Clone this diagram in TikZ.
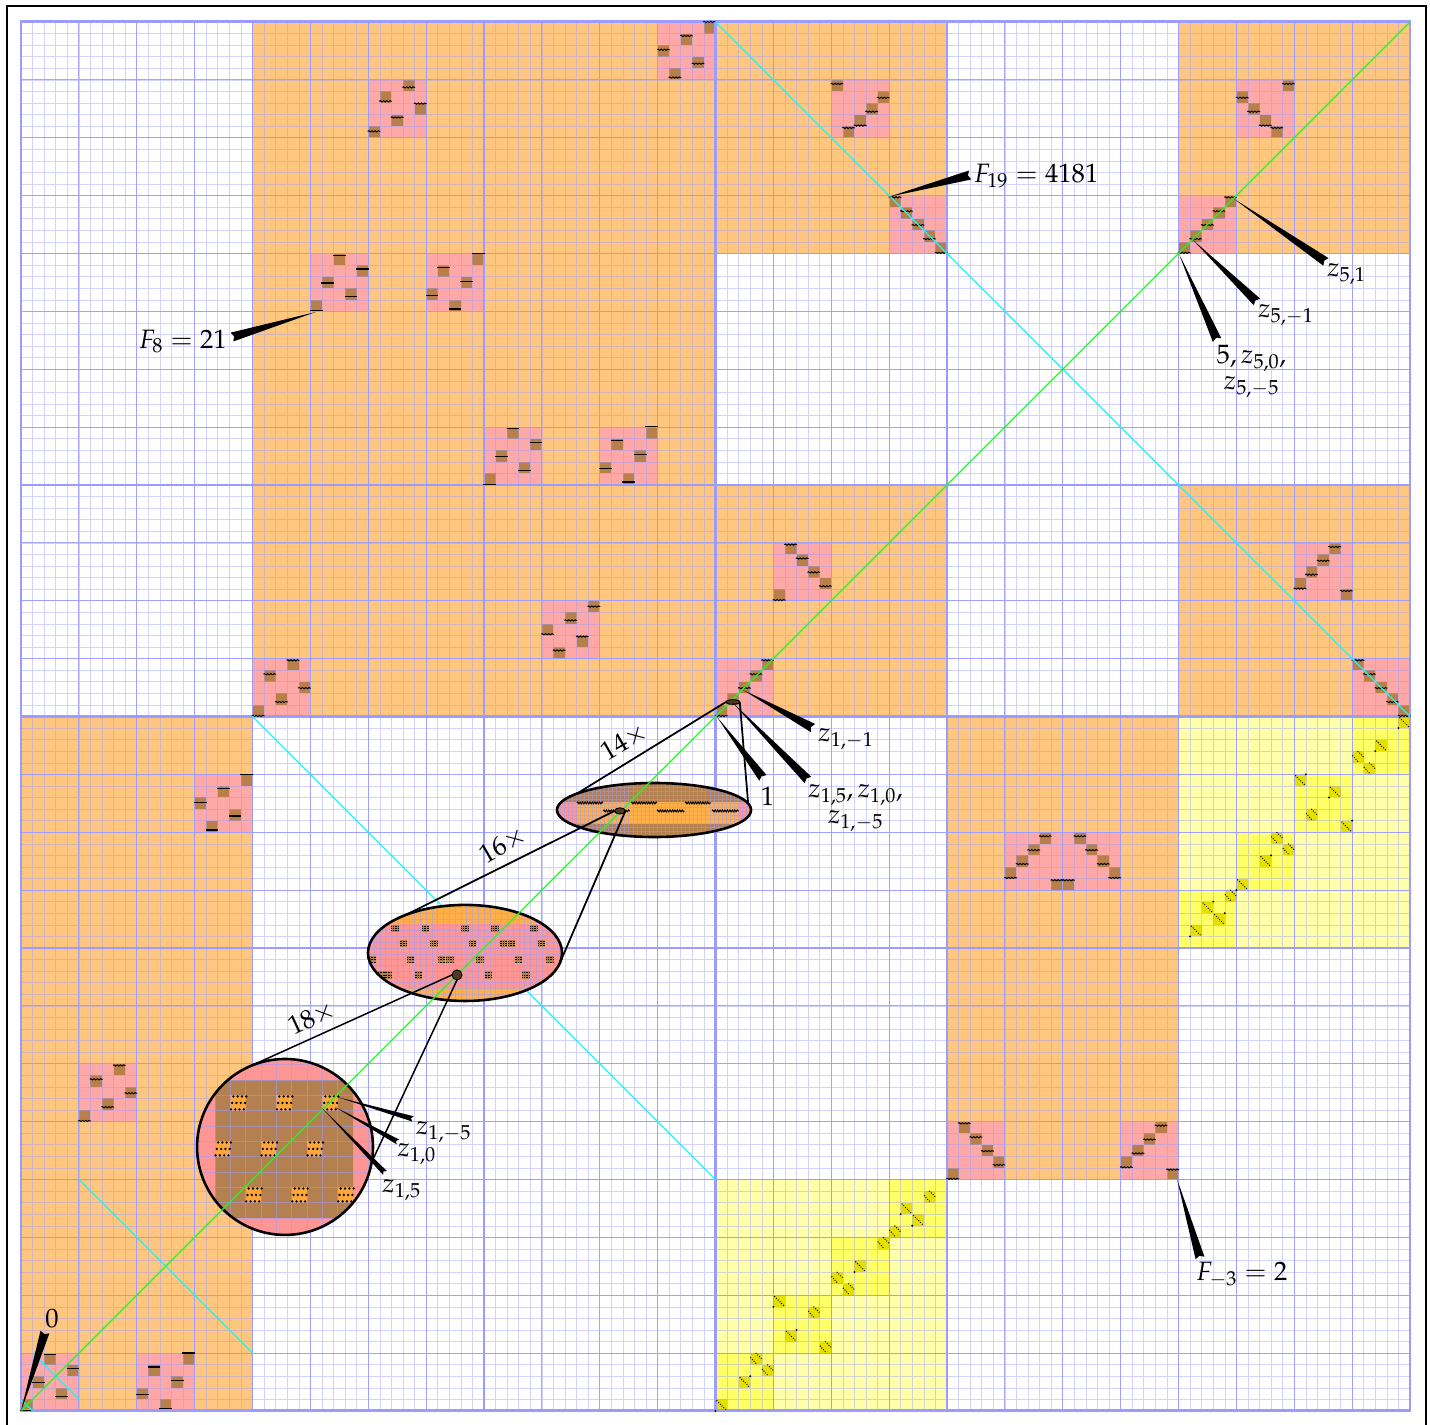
\documentclass[tikz,border=0pt]{standalone}
\usepackage{amsmath,amssymb}
\usepackage{mathpazo}
\usepackage{tikz}
\usetikzlibrary{calc,shapes.geometric,decorations.pathmorphing}

\definecolor{gridcol}{HTML}{9C9CFF}
\definecolor{orangecol}{HTML}{FFC680}
\definecolor{pinkcol}{HTML}{FFA8A8}
\definecolor{browncol}{HTML}{B87F48}
\definecolor{paleyellow}{HTML}{FFFFAA}
\definecolor{brightyellow}{HTML}{FFFF66}
\definecolor{darkyellow}{HTML}{E6E000}
\definecolor{lensorange}{HTML}{FFB04A}
\definecolor{lenspink}{HTML}{FF9696}
\definecolor{lensbrown}{HTML}{B5804F}
\definecolor{diagcol}{HTML}{1EFA1E}
\definecolor{crosscol}{HTML}{1EF5F5}

% pointer with a notched wide end: [half width]{wide end}{tip}
\newcommand{\pointer}[3][3.4pt]{%
  \fill ($(#2)!#1!90:(#3)$) -- (#3) -- ($(#2)!#1!-90:(#3)$) -- ($(#2)!1.6pt!(#3)$) -- cycle;}

\begin{document}
\begin{tikzpicture}[
    x=0.3cm, y=0.3cm,
    txt/.style={font=\fontsize{19.6}{23}\selectfont, inner sep=0pt, align=center},
    minorline/.style={gridcol, line width=0.4pt, opacity=0.45},
    midline/.style={gridcol, line width=0.6pt, opacity=0.9},
    bigline/.style={gridcol, line width=0.9pt},
    heavyline/.style={gridcol, line width=1.9pt},
    wavymark/.style={black, line width=0.7pt, decorate, decoration={snake, amplitude=0.45pt, segment length=2.4pt}},
    flatmark/.style={black, line width=0.9pt},
    dotline/.style={black, line cap=round, line width=1pt, dash pattern=on 0pt off 1.8pt},
    lensgrid/.style={gridcol, line width=0.3pt, opacity=0.55},
    lensedge/.style={draw=black, line width=1.9pt, ellipse, inner sep=0pt, outer sep=0pt},
    zoomline/.style={black, line width=1.3pt},
    srcspot/.style={draw=black, fill=browncol!45!black, ellipse, line width=0.7pt, inner sep=0pt, outer sep=0pt}
]
\useasboundingbox (-1.814,-1.21) rectangle (121.73,121.9);

% Outer frame
\draw[black, line width=1.5pt] (-1.25,-1.21) -- (-1.25,121.42) -- (121.42,121.42) -- (121.42,-1.21);

% Large regions
\foreach \bx/\by/\bw/\bh in {20/60/40/60, 60/100/20/20, 100/100/20/20, 60/60/20/20, 100/60/20/20, 0/0/20/60, 80/20/20/40}
    \fill[orangecol] (\bx,\by) rectangle ++(\bw,\bh);
\foreach \bx/\by in {100/40, 60/0}
    \fill[paleyellow] (\bx,\by) rectangle ++(20,20);
\foreach \bx/\by in {100/40, 105/45, 110/50, 115/55, 60/0, 65/5, 70/10, 75/15}
    \fill[brightyellow] (\bx,\by) rectangle ++(5,5);

% Pink blocks: corner / row of each column / mark base / mark shift / mark kind
\foreach \bx/\by/\ra/\rb/\rc/\rd/\re/\mbase/\moff/\kind in {
    55/115/2/0/3/1/4/.2/0/wavymark, 30/110/0/3/1/4/2/.15/3/wavymark,
    70/110/4/0/1/2/3/.05/1/wavymark, 105/110/3/2/1/0/4/.05/1/wavymark,
    75/100/4/3/2/1/0/.05/0/wavymark, 100/100/0/1/2/3/4/.05/0/wavymark,
    25/95/0/2/4/1/3/.05/0/flatmark, 35/95/1/3/0/2/4/.2/0/flatmark,
    40/80/0/2/4/1/3/.05/0/flatmark, 50/80/1/3/0/2/4/.25/0/flatmark,
    65/70/0/4/3/2/1/.05/0/wavymark, 110/70/1/2/3/4/0/.05/1/wavymark,
    45/65/2/0/3/1/4/.1/2/wavymark, 20/60/0/3/1/4/2/.05/0/wavymark,
    60/60/0/1/2/3/4/.05/0/wavymark, 115/60/4/3/2/1/0/.05/0/wavymark,
    15/50/2/0/3/1/4/.2/0/flatmark, 85/45/1/2/3/4/0/.05/1/wavymark,
    90/45/0/4/3/2/1/.05/1/wavymark, 5/25/0/3/1/4/2/.05/0/wavymark,
    80/20/0/4/3/2/1/.05/0/wavymark, 95/20/1/2/3/4/0/.05/1/wavymark,
    0/0/0/2/4/1/3/.05/0/flatmark, 10/0/1/3/0/2/4/.2/0/flatmark} {
    \fill[pinkcol] (\bx,\by) rectangle ++(5,5);
    \foreach \co/\ro in {0/\ra, 1/\rb, 2/\rc, 3/\rd, 4/\re}
        \fill[browncol] (\bx+\co,\by+\ro) rectangle ++(1,1);
}

% Dark yellow squares
\foreach \px/\py in {60/0, 62/2, 63/4, 64/3, 65/9, 66/6, 68/8, 69/5, 70/11, 71/10, 72/12, 74/14,
    75/15, 76/17, 77/16, 78/18, 101/41, 102/43, 103/42, 104/44, 105/45, 107/47, 108/49, 109/48,
    110/54, 111/51, 113/53, 114/50, 115/56, 116/55, 117/57, 119/59}
    \fill[darkyellow] (\px,\py) rectangle ++(1,1);

% Grid
\draw[minorline, step=1] (0,0) grid (120,120);
\draw[midline, step=5] (0,0) grid (120,120);
\draw[bigline, step=20] (0,0) grid (120,120);
\draw[heavyline] (60,0) -- (60,120) (0,60) -- (120,60);
\draw[gridcol, line width=2.2pt] (0,0) rectangle (120,120);

% Marks on the brown squares
\foreach \bx/\by/\ra/\rb/\rc/\rd/\re/\mbase/\moff/\kind in {
    55/115/2/0/3/1/4/.2/0/wavymark, 30/110/0/3/1/4/2/.15/3/wavymark,
    70/110/4/0/1/2/3/.05/1/wavymark, 105/110/3/2/1/0/4/.05/1/wavymark,
    75/100/4/3/2/1/0/.05/0/wavymark, 100/100/0/1/2/3/4/.05/0/wavymark,
    25/95/0/2/4/1/3/.05/0/flatmark, 35/95/1/3/0/2/4/.2/0/flatmark,
    40/80/0/2/4/1/3/.05/0/flatmark, 50/80/1/3/0/2/4/.25/0/flatmark,
    65/70/0/4/3/2/1/.05/0/wavymark, 110/70/1/2/3/4/0/.05/1/wavymark,
    45/65/2/0/3/1/4/.1/2/wavymark, 20/60/0/3/1/4/2/.05/0/wavymark,
    60/60/0/1/2/3/4/.05/0/wavymark, 115/60/4/3/2/1/0/.05/0/wavymark,
    15/50/2/0/3/1/4/.2/0/flatmark, 85/45/1/2/3/4/0/.05/1/wavymark,
    90/45/0/4/3/2/1/.05/1/wavymark, 5/25/0/3/1/4/2/.05/0/wavymark,
    80/20/0/4/3/2/1/.05/0/wavymark, 95/20/1/2/3/4/0/.05/1/wavymark,
    0/0/0/2/4/1/3/.05/0/flatmark, 10/0/1/3/0/2/4/.2/0/flatmark} {
    \foreach \co/\ro in {0/\ra, 1/\rb, 2/\rc, 3/\rd, 4/\re} {
        \pgfmathsetmacro{\mv}{\ro+\mbase+0.2*mod(\ro-\moff+5,5)}
        \draw[\kind] (\bx+\co-0.05,\mv) ++(0,\by) -- ++(1.1,0);
    }
}

% Dots on the yellow squares: one strand with a corner dot
\foreach \px/\py/\cx in {60/0/0, 62/2/1, 65/9/0, 66/6/1, 72/12/0, 76/17/0, 77/16/0, 101/41/0, 102/43/1, 103/42/1,
    105/45/0, 107/47/1, 110/54/1, 113/53/0, 114/50/1, 117/57/0, 119/59/0} {
    \draw[dotline] (\px+0.12,\py+0.88) -- (\px+0.9,\py+0.1);
    \fill (\px+\cx,\py+\cx) circle (0.09);
}
% Dots on the yellow squares: two strands
\foreach \px/\py in {63/4, 64/3, 68/8, 69/5, 70/11, 71/10, 74/14, 75/15, 78/18, 104/44, 108/49, 109/48, 111/51, 115/56, 116/55} {
    \draw[dotline] (\px+0.5,\py+0.98) -- (\px+0.98,\py+0.5);
    \draw[dotline] (\px+0.05,\py+0.6) -- (\px+0.5,\py+0.1);
}

% Anti-diagonal lines
\draw[crosscol, line width=0.9pt] (60,120) -- (120,60) (20,60) -- (60,20) (5,20) -- (20,5) (1,5) -- (5,1) (0,1) -- (1,0);

% First lens
\begin{scope}
    \clip (54.69,51.92) ellipse (8.38 and 2.33);
    \fill[lensbrown] (45,49) rectangle (64,55);
    \fill[lenspink] (45,50.7) rectangle (64,52.6);
    \fill[lensorange] (48.03,50.7) rectangle (61.95,52.6);
    \draw[lensgrid, step=0.35] (45,49) grid (64,55);
\end{scope}
\foreach \xa/\xb/\yb in {48.03/50.28/52.53, 52.7/54.95/52.53, 57.37/59.6/52.53, 50.3/52.6/51.84, 54.95/57.3/51.84, 59.7/62.03/51.84}
    \draw[black, line width=0.7pt, decorate, decoration={snake, amplitude=0.7pt, segment length=1.8pt}] (\xa,\yb) -- (\xb,\yb);
\node[lensedge, minimum width=5.03cm, minimum height=1.4cm] (lensA) at (54.69,51.92) {};

% Second lens
\begin{scope}
    \clip (38.36,39.57) ellipse (8.38 and 4.15);
    \fill[lensorange] (29,34) rectangle (48,45);
    \fill[lenspink] (29,36.54) rectangle (48,42.07);
    \draw[lensgrid, step=0.5] (29,34) grid (48,45);
    \foreach \px/\py in {32.31/41.7, 34.96/41.7, 38.36/41.7, 40.95/41.7, 44.32/41.7,
        33.03/40.4, 35.68/40.4, 39.02/40.4, 41.67/40.4, 42.39/40.4, 44.98/40.4,
        30.38/39, 33.66/39, 36.34/39, 37.06/39, 39.65/39, 42.97/39, 45.7/39,
        31.16/37.67, 31.73/37.67, 34.33/37.67, 40.37/37.67, 43.63/37.67} {
        \fill[browncol] (\px-0.32,\py-0.32) rectangle ++(0.64,0.64);
        \foreach \dy in {-0.2,0,0.2}
            \draw[black, line width=0.5pt, dash pattern=on 0.6pt off 0.6pt] (\px-0.32,\py+\dy) -- ++(0.64,0);
    }
\end{scope}
\node[lensedge, minimum width=5.03cm, minimum height=2.49cm] (lensB) at (38.36,39.57) {};

% Third lens
\begin{scope}
    \clip (22.81,22.81) circle (7.6);
    \fill[lenspink] (15,15) rectangle (31,31);
    \fill[lensbrown] (16.76,16.68) rectangle (28.68,28.6);
    \foreach \co/\ro in {1/1, 4/1, 7/1, 0/4, 3/4, 6/4, 2/7, 5/7, 8/7} {
        \begin{scope}[shift={(16.76+\co*1.325,28.6-\ro*1.325-1.325)}, scale=1.325]
            \fill[lensorange!80!orange] (0,0) rectangle (1,1);
        \end{scope}
    }
    \draw[lensgrid, shift={(16.76,16.68)}, step=1.325] (-5,-5) grid (20,20);
    \foreach \co/\ro in {1/1, 4/1, 7/1, 0/4, 3/4, 6/4, 2/7, 5/7, 8/7} {
        \begin{scope}[shift={(16.76+\co*1.325,28.6-\ro*1.325-1.325)}, scale=1.325]
            \foreach \ii in {0,...,3} \foreach \jj in {0,1,2}
                \fill[black] (0.04+\ii*0.28+\jj*0.08,0.08+\jj*0.42) circle (0.085);
        \end{scope}
    }
\end{scope}
\node[lensedge, minimum width=4.56cm, minimum height=4.56cm] (lensC) at (22.81,22.81) {};

% Main diagonal
\draw[diagcol, line width=0.95pt] (0,0) -- (120,120);

% Spots that the lenses enlarge
\node[srcspot, minimum width=0.36cm, minimum height=0.12cm] (spotA) at (61.5,61.25) {};
\node[srcspot, minimum width=0.28cm, minimum height=0.16cm] (spotB) at (51.75,51.84) {};
\node[srcspot, minimum width=0.26cm, minimum height=0.26cm] (spotC) at (37.67,37.67) {};

% Lens connectors
\draw[zoomline] (spotA.west) -- (lensA.168);
\draw[zoomline] (spotA.east) -- (lensA.4);
\draw[zoomline] (spotB.west) -- (lensB.147);
\draw[zoomline] (spotB.east) -- (lensB.-7);
\draw[zoomline, line width=1.1pt] (spotC.west) -- (lensC.113);
\draw[zoomline, line width=1.1pt] (spotC.south) -- (lensC.-10);

% Labels
\node[txt, anchor=west] (lblFnineteen) at (82.3,106.7) {$F_{19} = 4181$};
\node[txt, anchor=east] (lblFeight) at (17.8,92.4) {$F_{8} = 21$};
\node[txt, anchor=west] (lblzfo) at (112.83,98.2) {$z_{5,1}$};
\node[txt, anchor=west] (lblzfm) at (106.87,94.67) {$z_{5,-1}$};
\node[txt] (lblzfz) at (106.3,89.8) {$5, z_{5,0},$\\[-4pt]$z_{5,-5}$};
\node[txt, anchor=west] (lblzom) at (68.86,58.04) {$z_{1,-1}$};
\node[txt] (lblzoz) at (72.1,52.1) {$z_{1,5}, z_{1,0},$\\[-4pt]$z_{1,-5}$};
\node[txt] (lblone) at (64.5,53.1) {$1$};
\node[txt] (lblzero) at (2.68,7.95) {$0$};
\node[txt, anchor=west] (lblFminus) at (101.5,11.8) {$F_{-3} = 2$};
\node[txt, anchor=west] (lblczm) at (34.1,24.1) {$z_{1,-5}$};
\node[txt, anchor=west] (lblczz) at (32.5,22.2) {$z_{1,0}$};
\node[txt, anchor=west] (lblczf) at (31.2,19.05) {$z_{1,5}$};
\node[txt, rotate=30] (lblfourteen) at (52.1,57.8) {$14\times$};
\node[txt, rotate=30] (lblsixteen) at (41.64,48.9) {$16\times$};
\node[txt, rotate=25] (lbleighteen) at (25.14,33.95) {$18\times$};

% Pointers
\pointer{82,106.78}{75,104.9}
\pointer{18.23,92.78}{25.49,94.95}
\pointer{112.74,99.27}{104.8,104.71}
\pointer{106.78,95.81}{101.25,101.17}
\pointer{103.33,92.53}{100.04,99.96}
\pointer{68.42,59}{62.38,62.29}
\pointer{67.99,54.51}{61.43,61.25}
\pointer{64.1,54.69}{60.13,59.96}
\pointer{2.07,6.82}{0,0}
\pointer{101.86,13.22}{99.87,20.04}
\pointer[2pt]{33.87,25.23}{27.3,27.13}
\pointer[2pt]{32.57,23.24}{27.13,26.26}
\pointer[2pt]{31.45,20.56}{26.09,26.09}

\end{tikzpicture}
\end{document}
